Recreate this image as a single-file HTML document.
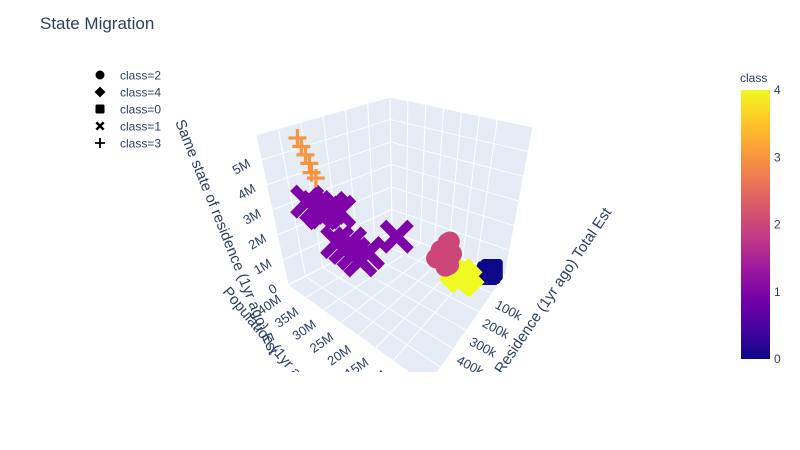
<!DOCTYPE html>
<html><head><meta charset="utf-8"><style>
html,body{margin:0;padding:0;background:#fff;}
svg{display:block;font-family:"Liberation Sans",Arial,sans-serif;}
</style></head><body>
<svg id="chart" width="800" height="450" viewBox="0 0 800 450">
<defs>
<linearGradient id="plasma" x1="0" y1="1" x2="0" y2="0">
<stop offset="0" stop-color="#0d0887"/><stop offset="0.11" stop-color="#46039f"/><stop offset="0.22" stop-color="#7201a8"/><stop offset="0.33" stop-color="#9c179e"/><stop offset="0.44" stop-color="#bd3786"/><stop offset="0.56" stop-color="#d8576b"/><stop offset="0.67" stop-color="#ed7953"/><stop offset="0.78" stop-color="#fb9f3a"/><stop offset="0.89" stop-color="#fdca26"/><stop offset="1" stop-color="#f0f921"/>
</linearGradient>
<clipPath id="scene"><rect x="0" y="0" width="720" height="372"/></clipPath>
</defs>
<text x="40" y="29" font-size="17" fill="#2a3f5f">State Migration</text>
<g id="legend"></g>
<g id="scenegrp" clip-path="url(#scene)"></g>
<g id="cbar"></g>
</svg>
<script>
// ---- data ----
const classes = [2,4,0,1,3];
const classColors = ['#0d0887','#7e03a8','#cc4778','#f89540','#f0f921'];
const xTicks = [100,200,300,400,500];           // k
const yTicks = [10,15,20,25,30,35,40];          // M
const zTicks = [0,1,2,3,4,5];                   // M
const cbTicks = [0,1,2,3,4];
// points: x = residence total (k), y = population (M), z = same state (M), class
const ptX = [ 575,572,568,565,570,562, 525,520,515,518,512,505, 455,450,445,448,440,430, 330, 260,250,240,255,235,245,225, 200,185,175,165,190,160, 75,70,65,72];
const ptY = [ 31,30.5,30,29.5,29,28.5, 34,32,30,28,31,26.5, 31,29,27,25,28,23.5, 20, 10.5,9,8,12,10,8.5,9.5, 9,7,5.5,5,8,6, 3,2.8,2.4,3.3];
const ptZ = [ 6.2,5.9,5.6,5.3,5.0,4.8, 3.5,3.4,3.3,3.6,3.2,3.5, 1.9,1.8,1.7,1.6,2.0,1.9, 2.3, 2.0,2.3,1.9,1.6,1.3,1.5,2.2, 0.7,0.8,1.0,0.6,1.0,0.5, 0.5,0.45,0.55,0.4];
const ptC = [ 3,3,3,3,3,3, 1,1,1,1,1,1, 1,1,1,1,1,1, 1, 2,2,2,2,2,2,2, 4,4,4,4,4,4, 0,0,0,0];

// ---- projection ----
const XMAX=600, YMAX=40, ZMAX=6;
const B=[392,232], L=[288,285], R=[505,275], F=[428,386];
const TB=[390,97], TL=[256,135], TR=[533,127], TF=[420,180];
function proj(x,y,z){
  const u=x/XMAX, v=1-y/YMAX, w=z/ZMAX;
  const a=(1-u)*(1-v), b=u*(1-v), c=(1-u)*v, d=u*v;
  const bx=B[0]*a+L[0]*b+R[0]*c+F[0]*d, by=B[1]*a+L[1]*b+R[1]*c+F[1]*d;
  const tx=TB[0]*a+TL[0]*b+TR[0]*c+TF[0]*d, ty=TB[1]*a+TL[1]*b+TR[1]*c+TF[1]*d;
  return [bx+(tx-bx)*w, by+(ty-by)*w];
}
const NS='http://www.w3.org/2000/svg';
function mk(tag,attrs,parent){const e=document.createElementNS(NS,tag);for(const k in attrs)e.setAttribute(k,attrs[k]);parent.appendChild(e);return e;}
const scene=document.getElementById('scenegrp');
function poly(pts,fill,name){const e=mk('polygon',{points:pts.map(p=>p.join(',')).join(' '),fill:fill,stroke:'#fff','stroke-width':1},scene);

}
function line(p,q,name,w){const e=mk('line',{x1:p[0],y1:p[1],x2:q[0],y2:q[1],stroke:'#fff','stroke-width':w||1},scene);

}
// panes
poly([proj(0,YMAX,0),proj(XMAX,YMAX,0),proj(XMAX,0,0),proj(0,0,0)],'#e5ecf6','floor-pane');
poly([proj(0,YMAX,0),proj(XMAX,YMAX,0),proj(XMAX,YMAX,ZMAX),proj(0,YMAX,ZMAX)],'#e5ecf6','left-wall-pane');
poly([proj(0,YMAX,0),proj(0,0,0),proj(0,0,ZMAX),proj(0,YMAX,ZMAX)],'#e5ecf6','right-wall-pane');
// grid
for(const t of xTicks){line(proj(t,YMAX,0),proj(t,0,0),'x-grid-floor');line(proj(t,YMAX,0),proj(t,YMAX,ZMAX),'x-grid-wall');}
for(const t of yTicks){line(proj(0,t,0),proj(XMAX,t,0),'y-grid-floor');line(proj(0,t,0),proj(0,t,ZMAX),'y-grid-wall');}
for(const t of zTicks){line(proj(0,YMAX,t),proj(XMAX,YMAX,t),'z-grid-left');line(proj(0,YMAX,t),proj(0,0,t),'z-grid-right');}
// tick labels
function txt(x,y,s,opts,name,parent){const e=mk('text',Object.assign({x:x,y:y,'font-size':12,fill:'#2a3f5f'},opts||{}),parent||scene);e.textContent=s;

return e;}
for(const t of xTicks){const p=proj(t,0,0);txt(p[0]+2,p[1]+14,t+'k',{'font-size':13,transform:`rotate(28 ${p[0]+2} ${p[1]+14})`},'x-tick-label');}
for(const t of yTicks){const p=proj(XMAX,t,0);txt(p[0]-6,p[1]+16,t+'M',{'font-size':13,'text-anchor':'end',transform:`rotate(-35 ${p[0]-6} ${p[1]+16})`},'y-tick-label');}
for(const t of zTicks){const p=proj(XMAX,YMAX,t);txt(p[0]-10,p[1]+6,t?t+'M':'0',{'font-size':13,'text-anchor':'end',transform:`rotate(-30 ${p[0]-10} ${p[1]+6})`},'z-tick-label');}
// axis titles
txt(175,122,'Same state of residence (1yr ago) Est',{'font-size':15,transform:'rotate(68 175 122)'},'z-axis-title');
txt(222,292,'Population (1yr ago) Est',{'font-size':15,transform:'rotate(50 222 292)'},'y-axis-title');
txt(612,212,'Residence (1yr ago) Total Est',{'font-size':15,'text-anchor':'end',transform:'rotate(-56 612 212)'},'x-axis-title');
// markers
function marker(c,x,y,s,col,parent){
  let e;
  if(c===2){e=mk('circle',{cx:x,cy:y,r:s,fill:col},parent);}
  else if(c===4){e=mk('polygon',{points:`${x},${y-s*1.2} ${x+s*1.2},${y} ${x},${y+s*1.2} ${x-s*1.2},${y}`,fill:col},parent);}
  else if(c===0){e=mk('rect',{x:x-s,y:y-s,width:2*s,height:2*s,rx:s*0.3,fill:col},parent);}
  else if(c===1){const a=s,t=s*0.38;e=mk('path',{d:`M${x-a},${y-a+t}L${x-a+t},${y-a}L${x},${y-t}L${x+a-t},${y-a}L${x+a},${y-a+t}L${x+t},${y}L${x+a},${y+a-t}L${x+a-t},${y+a}L${x},${y+t}L${x-a+t},${y+a}L${x-a},${y+a-t}L${x-t},${y}Z`,fill:col},parent);}
  else {const a=s,t=s*0.18;e=mk('path',{d:`M${x-t},${y-a}H${x+t}V${y-t}H${x+a}V${y+t}H${x+t}V${y+a}H${x-t}V${y+t}H${x-a}V${y-t}H${x-t}Z`,fill:col},parent);}
  return e;
}
const sizes={0:11,1:17,2:10,3:9,4:12};
const order=ptX.map((_,i)=>i).sort((a,b)=>ptX[a]-ptX[b]);
for(const i of order){const p=proj(ptX[i],ptY[i],ptZ[i]);
  const e=marker(ptC[i],p[0],p[1],sizes[ptC[i]],classColors[ptC[i]],scene);
  
  
}
// legend
const lg=document.getElementById('legend');
classes.forEach((c,i)=>{const y=75+i*17;
  const m=marker(c,100,y,c===1?4.5:c===3?5:4.5,'#000',lg);
  
  
  txt(120,y+4.5,'class='+c,{},'legend-entry-class-'+c,lg);
});
// colorbar
const cb=document.getElementById('cbar');
const cbr=mk('rect',{x:741,y:90,width:29,height:269,fill:'url(#plasma)'},cb);


txt(740,82,'class',{},'colorbar-title',cb);
for(const t of cbTicks){txt(774,359-t*67.25+4,String(t),{},'colorbar-tick-label',cb);}
</script>
</body></html>
